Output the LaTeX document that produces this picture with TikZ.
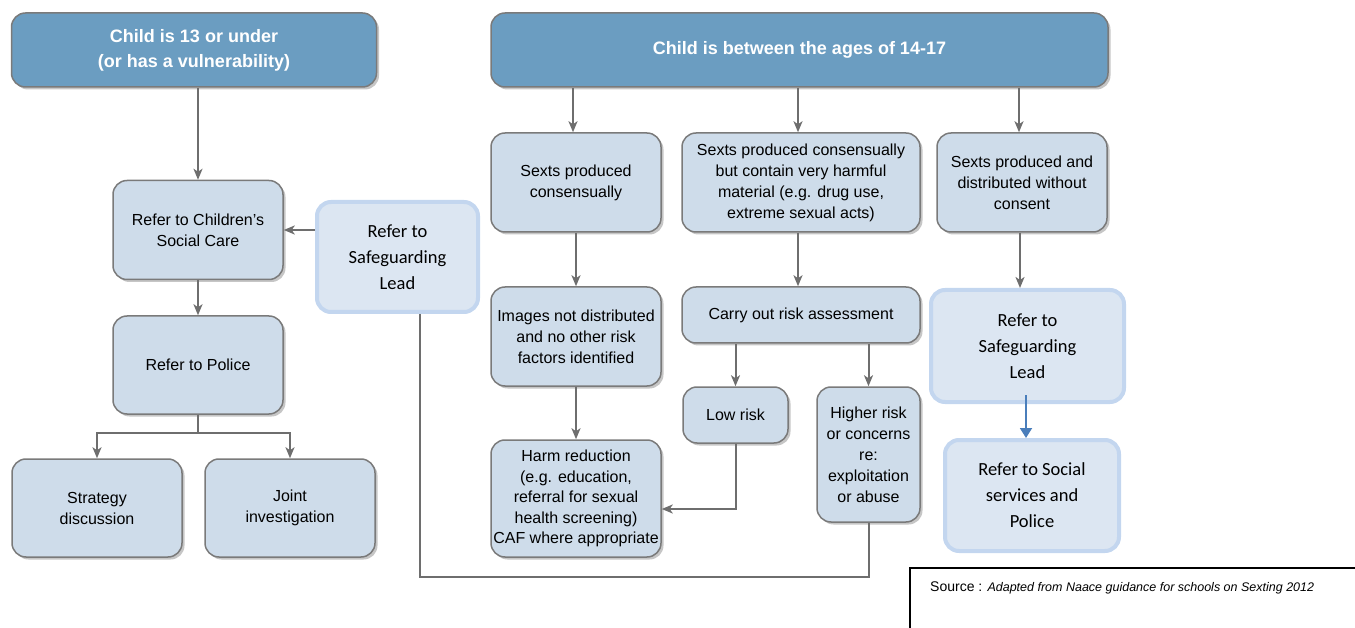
\documentclass[tikz,border=0pt]{standalone}
\usepackage{fontspec}
\setmainfont{Liberation Sans}
\newfontfamily\calfont{Carlito}
\usetikzlibrary{arrows.meta,shadows}

\definecolor{hdblue}{HTML}{6B9DC1}
\definecolor{boxfill}{HTML}{CEDCEA}
\definecolor{boxline}{HTML}{7A7A7A}
\definecolor{sgfill}{HTML}{DCE6F2}
\definecolor{sgline}{HTML}{C3D6EF}
\definecolor{arrgray}{HTML}{6E6E6E}
\definecolor{arrblue}{HTML}{4A7EBB}

\tikzset{
	greybox/.style={draw=boxline, line width=1.5pt, fill=boxfill, rounded corners=14pt,
		align=center, inner sep=0pt, font=\fontsize{16}{21}\selectfont,
		drop shadow={shadow xshift=2.5pt, shadow yshift=-2.5pt, opacity=0.45}},
	headbox/.style={greybox, fill=hdblue, text=white, font=\fontsize{18}{25}\selectfont\bfseries},
	sgbox/.style={draw=sgline, line width=4pt, fill=sgfill, rounded corners=14pt,
		align=center, inner sep=0pt, font=\calfont\fontsize{18.5}{26}\selectfont},
	arr/.style={draw=arrgray, line width=2pt, -{Stealth[length=11pt,width=9pt,inset=3pt]}},
	plain/.style={draw=arrgray, line width=2pt},
	barr/.style={draw=arrblue, line width=1.8pt, -{Triangle[length=10pt,width=12pt]}}
}

\begin{document}
\begin{tikzpicture}[x=1pt, y=-1pt]
	\useasboundingbox (0,0) rectangle (1355,628);

	% left column
	\node[headbox, minimum width=365, minimum height=74] (hdA) at (194,50) {Child is 13 or under\\(or has a vulnerability)};
	\node[greybox, minimum width=170, minimum height=99] (csc) at (198,230) {Refer to Children’s\\Social Care};
	\node[sgbox, minimum width=161, minimum height=110] (sgl) at (397.5,257) {Refer to\\Safeguarding\\Lead};
	\node[greybox, minimum width=170, minimum height=98] (police) at (198,365) {Refer to Police};
	\node[greybox, minimum width=170, minimum height=98] (strat) at (97,508) {Strategy\\discussion};
	\node[greybox, minimum width=170, minimum height=98] (joint) at (290,508) {Joint\\investigation};

	% right part
	\node[headbox, minimum width=617, minimum height=74] (hdB) at (799.5,50) {Child is between the ages of 14-17};
	\node[greybox, minimum width=170, minimum height=99] (sc) at (576,182.5) {Sexts produced\\consensually};
	\node[greybox, minimum width=238, minimum height=99] (sh) at (801,182.5) {Sexts produced consensually\\but contain very harmful\\material (e.g. drug use,\\extreme sexual acts)};
	\node[greybox, minimum width=170, minimum height=99] (sn) at (1022,182.5) {Sexts produced and\\distributed without\\consent};
	\node[greybox, minimum width=170, minimum height=99] (img) at (576,336.5) {Images not distributed\\and no other risk\\factors identified};
	\node[greybox, minimum width=238, minimum height=56] (risk) at (801,315) {Carry out risk assessment};
	\node[greybox, minimum width=105, minimum height=56] (low) at (735.5,415) {Low risk};
	\node[greybox, minimum width=103, minimum height=135] (high) at (868.5,454.5) {Higher risk\\or concerns\\re:\\exploitation\\or abuse};
	\node[greybox, minimum width=170, minimum height=117, font=\fontsize{16}{20.5}\selectfont] (harm) at (576,498.5) {Harm reduction\\(e.g. education,\\referral for sexual\\health screening)\\CAF where appropriate};
	\node[sgbox, minimum width=193, minimum height=112] (sgr) at (1027.5,346) {Refer to\\Safeguarding\\Lead};
	\node[sgbox, minimum width=174, minimum height=111] (ssp) at (1032,495.5) {Refer to Social\\services and\\Police};

	% source
	\draw[line width=1.2pt] (910,628) -- (910,568) -- (1355,568);
	\node[anchor=base west, inner sep=0pt] (src) at (930,591) {\fontsize{14}{16}\selectfont Source : \fontsize{12.5}{16}\selectfont\itshape Adapted from Naace guidance for schools on Sexting 2012};

	% connectors
	\draw[arr] (csc.north |- hdA.south) -- (csc.north);
	\draw[arr] (sgl.west |- csc.east) -- (csc.east);
	\draw[arr] (csc.south) -- (police.north);
	\draw[arr] (police.south) -- ++(0,18) -| (strat.north);
	\draw[arr] (police.south) -- ++(0,18) -| (joint.north);
	\draw[plain] ([xshift=22pt]sgl.south) -- ++(0,263) -| (high.south);

	\foreach \n in {sc,sh,sn}{
		\draw[arr] ([xshift=-3pt]\n.north |- hdB.south) -- ([xshift=-3pt]\n.north);
	}
	\draw[arr] (sc.south) -- (img.north);
	\draw[arr] (img.south) -- (harm.north);
	\draw[arr] ([xshift=-3pt]sh.south) -- ([xshift=-3pt]risk.north);
	\draw[arr] (low.north |- risk.south) -- (low.north);
	\draw[arr] (high.north |- risk.south) -- (high.north);
	\draw[arr] (low.south) |- ([yshift=-10.5pt]harm.east);
	\draw[arr] ([xshift=-2pt]sn.south) -- ([xshift=-2pt]sn.south |- sgr.north);
	\draw[barr] ([yshift=9pt, xshift=-1.5pt]sgr.south) -- ([xshift=-1.5pt]sgr.south |- ssp.north);
\end{tikzpicture}
\end{document}
